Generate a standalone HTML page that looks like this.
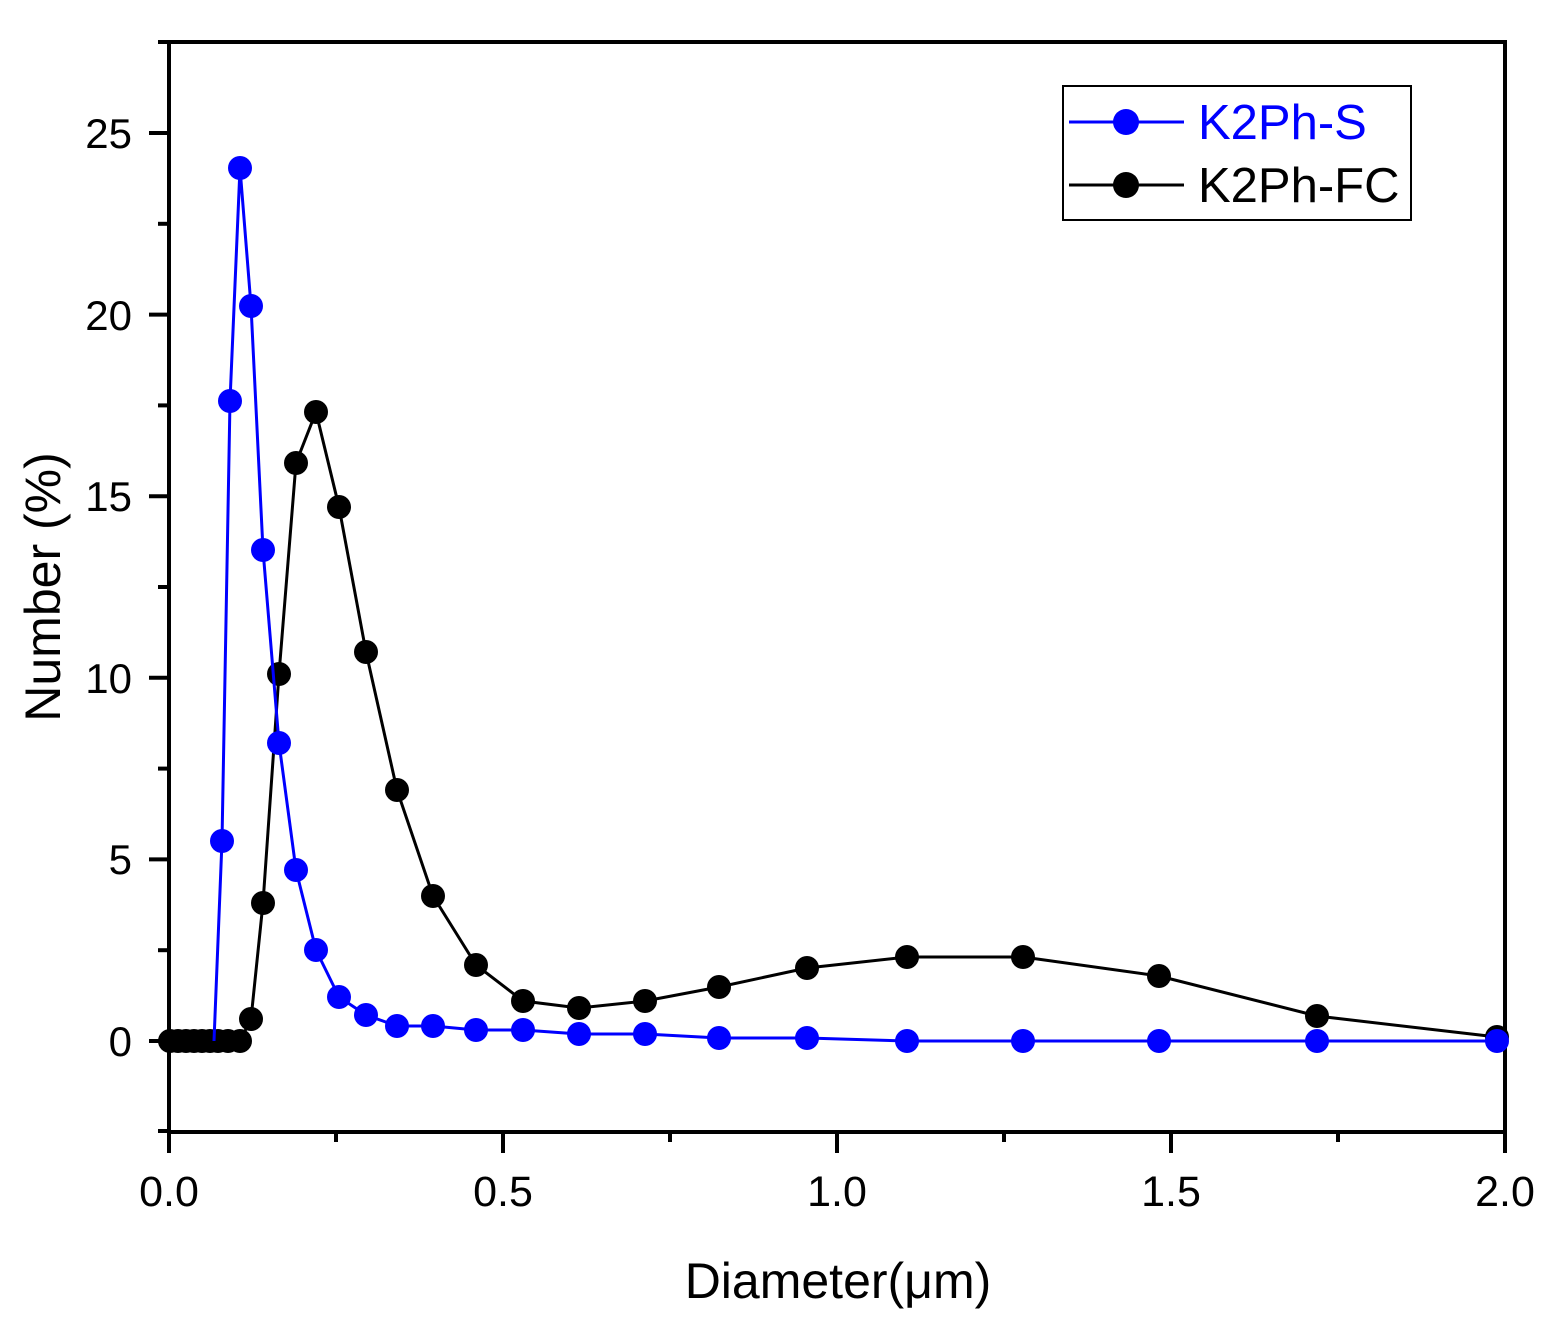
<!DOCTYPE html>
<html><head><meta charset="utf-8"><style>
html,body{margin:0;padding:0;background:#fff}
svg{display:block}
text{font-family:"Liberation Sans",Arial,sans-serif}
</style></head><body>
<svg width="1568" height="1336" viewBox="0 0 1568 1336" xmlns="http://www.w3.org/2000/svg">
<rect width="1568" height="1336" fill="#fff"/>
<rect x="169" y="42" width="1336" height="1090" fill="none" stroke="#000" stroke-width="4"/>
<g stroke="#000" stroke-width="4">
<line x1="149" y1="1041" x2="169" y2="1041"/>
<line x1="149" y1="859.4" x2="169" y2="859.4"/>
<line x1="149" y1="677.8" x2="169" y2="677.8"/>
<line x1="149" y1="496.2" x2="169" y2="496.2"/>
<line x1="149" y1="314.6" x2="169" y2="314.6"/>
<line x1="149" y1="133" x2="169" y2="133"/>
<line x1="158" y1="1131" x2="169" y2="1131"/>
<line x1="158" y1="950.2" x2="169" y2="950.2"/>
<line x1="158" y1="768.6" x2="169" y2="768.6"/>
<line x1="158" y1="587" x2="169" y2="587"/>
<line x1="158" y1="405.4" x2="169" y2="405.4"/>
<line x1="158" y1="223.8" x2="169" y2="223.8"/>
<line x1="158" y1="42" x2="169" y2="42"/>
<line x1="169" y1="1132" x2="169" y2="1153"/>
<line x1="503" y1="1132" x2="503" y2="1153"/>
<line x1="837" y1="1132" x2="837" y2="1153"/>
<line x1="1171" y1="1132" x2="1171" y2="1153"/>
<line x1="1505" y1="1132" x2="1505" y2="1153"/>
<line x1="336" y1="1132" x2="336" y2="1142"/>
<line x1="670" y1="1132" x2="670" y2="1142"/>
<line x1="1004" y1="1132" x2="1004" y2="1142"/>
<line x1="1338" y1="1132" x2="1338" y2="1142"/>
</g>
<g font-size="42" text-anchor="end" fill="#000">
<text x="132" y="1056">0</text>
<text x="132" y="874">5</text>
<text x="132" y="693">10</text>
<text x="132" y="511">15</text>
<text x="132" y="330">20</text>
<text x="132" y="148">25</text>
</g>
<g font-size="43" text-anchor="middle" fill="#000">
<text x="169" y="1206">0.0</text>
<text x="503" y="1206">0.5</text>
<text x="837" y="1206">1.0</text>
<text x="1171" y="1206">1.5</text>
<text x="1505" y="1206">2.0</text>
<text x="838" y="1298" font-size="50">Diameter(μm)</text>
<text transform="translate(60,587) rotate(-90)" font-size="50">Number (%)</text>
</g>
<polyline fill="none" stroke="#000" stroke-width="3" points="170,1041 178,1041 186,1041 194,1041 202,1041 210,1041 218,1041 228,1041 240,1041 251,1019 263,903 279,674 296,463 316,412 339,507 366,652 397,790 433,896 476,965 523,1001 579,1008 645,1001 719,987 807,968 907,957 1023,957 1159,976 1317,1016 1497,1037"/>
<g fill="#000">
<circle cx="170" cy="1041" r="12"/><circle cx="178" cy="1041" r="12"/><circle cx="186" cy="1041" r="12"/><circle cx="194" cy="1041" r="12"/><circle cx="202" cy="1041" r="12"/><circle cx="210" cy="1041" r="12"/><circle cx="218" cy="1041" r="12"/><circle cx="228" cy="1041" r="12"/><circle cx="240" cy="1041" r="12"/>
<circle cx="251" cy="1019" r="12"/><circle cx="263" cy="903" r="12"/><circle cx="279" cy="674" r="12"/><circle cx="296" cy="463" r="12"/><circle cx="316" cy="412" r="12"/><circle cx="339" cy="507" r="12"/><circle cx="366" cy="652" r="12"/><circle cx="397" cy="790" r="12"/><circle cx="433" cy="896" r="12"/><circle cx="476" cy="965" r="12"/><circle cx="523" cy="1001" r="12"/><circle cx="579" cy="1008" r="12"/><circle cx="645" cy="1001" r="12"/><circle cx="719" cy="987" r="12"/><circle cx="807" cy="968" r="12"/><circle cx="907" cy="957" r="12"/><circle cx="1023" cy="957" r="12"/><circle cx="1159" cy="976" r="12"/><circle cx="1317" cy="1016" r="12"/><circle cx="1497" cy="1037" r="12"/>
</g>
<polyline fill="none" stroke="#0000ff" stroke-width="3" points="214,1041 222,841 230,401 240,168 251,306 263,550 279,743 296,870 316,950 339,997 366,1015 397,1026 433,1026 476,1030 523,1030 579,1034 645,1034 719,1038 807,1038 907,1041 1023,1041 1159,1041 1317,1041 1497,1041"/>
<g fill="#0000ff">
<circle cx="222" cy="841" r="12"/><circle cx="230" cy="401" r="12"/><circle cx="240" cy="168" r="12"/><circle cx="251" cy="306" r="12"/><circle cx="263" cy="550" r="12"/><circle cx="279" cy="743" r="12"/><circle cx="296" cy="870" r="12"/><circle cx="316" cy="950" r="12"/><circle cx="339" cy="997" r="12"/><circle cx="366" cy="1015" r="12"/><circle cx="397" cy="1026" r="12"/><circle cx="433" cy="1026" r="12"/><circle cx="476" cy="1030" r="12"/><circle cx="523" cy="1030" r="12"/><circle cx="579" cy="1034" r="12"/><circle cx="645" cy="1034" r="12"/><circle cx="719" cy="1038" r="12"/><circle cx="807" cy="1038" r="12"/><circle cx="907" cy="1041" r="12"/><circle cx="1023" cy="1041" r="12"/><circle cx="1159" cy="1041" r="12"/><circle cx="1317" cy="1041" r="12"/><circle cx="1497" cy="1041" r="12"/>
</g>
<rect x="1063" y="86" width="348" height="134" fill="#fff" stroke="#000" stroke-width="2"/>
<line x1="1069" y1="122" x2="1184" y2="122" stroke="#0000ff" stroke-width="3"/>
<circle cx="1126" cy="122" r="13" fill="#0000ff"/>
<line x1="1069" y1="185" x2="1184" y2="185" stroke="#000" stroke-width="3"/>
<circle cx="1126" cy="185" r="13" fill="#000"/>
<text x="1198" y="139" font-size="49" fill="#0000ff">K2Ph-S</text>
<text x="1198" y="202" font-size="49" fill="#000">K2Ph-FC</text>
</svg>
</body></html>
